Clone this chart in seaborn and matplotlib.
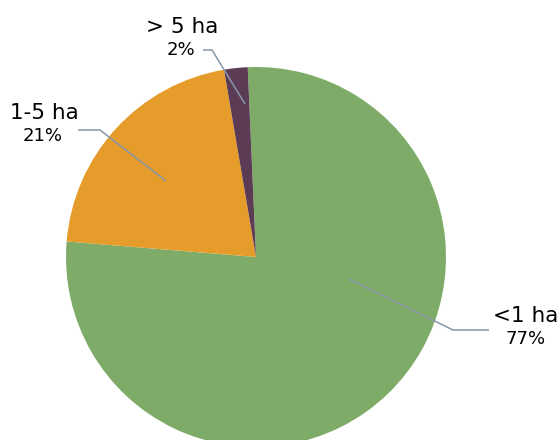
import matplotlib
matplotlib.use("Agg")
import matplotlib.pyplot as plt
import seaborn as sns

# Farm size classes and their share of holdings (%)
categories = ["<1 ha", "1-5 ha", "> 5 ha"]
shares = [77, 21, 2]
pct_labels = ["77%", "21%", "2%"]
colors = ["#7EAC68", "#E69C2B", "#5C3C55"]

sns.set_theme(style="white")
plt.rcParams["font.family"] = ["DejaVu Sans"]

W, H = 558, 440
fig = plt.figure(figsize=(W / 100, H / 100), dpi=100)
ax = fig.add_axes([0, 0, 1, 1])


def px(x, y):
    """Pixel position (origin top-left) to data coordinates."""
    return x, H - y


cx, cy = px(256, 257)
ax.pie(
    shares,
    colors=sns.color_palette(colors),
    startangle=92.5,
    counterclock=False,
    center=(cx, cy),
    radius=190,
    wedgeprops=dict(linewidth=0),
)
ax.set_xlim(0, W)
ax.set_ylim(0, H)
ax.set_aspect("equal")
ax.axis("off")

# Label placement: (name centre, percent centre, leader line points)
layout = {
    "<1 ha": ((526, 316), (526, 339), [(489, 330), (453, 330), (349, 279)]),
    "1-5 ha": ((44, 113), (43, 136), [(78, 130), (100, 130), (166, 181)]),
    "> 5 ha": ((182, 27), (181, 50), [(203, 50), (212, 50), (245, 104)]),
}

leader = "#8696A8"
for name, pct in zip(categories, pct_labels):
    name_pos, pct_pos, pts = layout[name]
    xs, ys = zip(*[px(*p) for p in pts])
    ax.plot(xs, ys, color=leader, lw=1.1, solid_capstyle="butt")
    ax.text(*px(*name_pos), name, ha="center", va="center",
            fontsize=15.5, color="black")
    ax.text(*px(*pct_pos), pct, ha="center", va="center",
            fontsize=13, color="black")

fig.savefig("out.png", dpi=100)
